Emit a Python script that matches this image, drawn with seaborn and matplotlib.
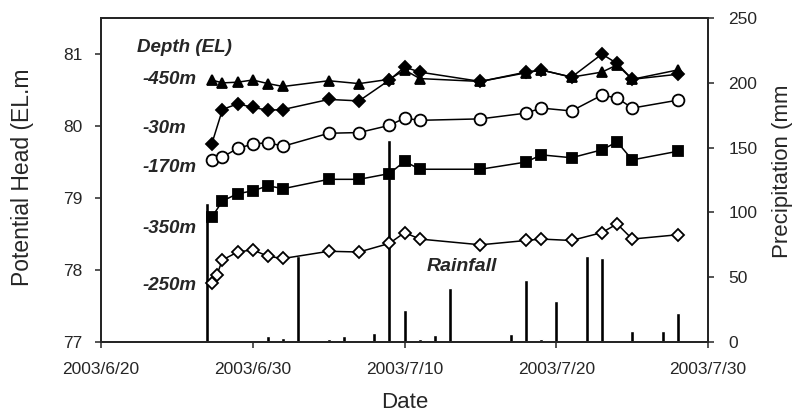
import pandas as pd
import numpy as np
import matplotlib
matplotlib.use("Agg")
import matplotlib.pyplot as plt
import matplotlib.dates as mdates
import seaborn as sns

# measurement dates (potential head)
head_dates = ["2003-06-27 07:00", "2003-06-28 00:00", "2003-06-29 00:00", "2003-06-30 00:00",
              "2003-07-01 00:00", "2003-07-02 00:00", "2003-07-05 00:00", "2003-07-07 00:00",
              "2003-07-09 00:00", "2003-07-10 00:00", "2003-07-11 00:00", "2003-07-15 00:00",
              "2003-07-18 00:00", "2003-07-19 00:00", "2003-07-21 00:00", "2003-07-23 00:00",
              "2003-07-24 00:00", "2003-07-25 00:00", "2003-07-28 00:00"]
# the -250m well has one extra reading on the first day
head_dates_250 = ["2003-06-27 07:00", "2003-06-27 15:00"] + head_dates[1:]

head_450 = [80.64, 80.60, 80.61, 80.64, 80.59, 80.55, 80.63, 80.59, 80.65, 80.78,
            80.66, 80.62, 80.74, 80.78, 80.68, 80.75, 80.85, 80.65, 80.78]
head_30 = [79.75, 80.23, 80.31, 80.26, 80.22, 80.23, 80.37, 80.35, 80.64, 80.82,
           80.75, 80.62, 80.75, 80.78, 80.68, 81.00, 80.87, 80.65, 80.72]
head_170 = [79.53, 79.57, 79.69, 79.75, 79.77, 79.72, 79.90, 79.91, 80.01, 80.11,
            80.08, 80.10, 80.18, 80.25, 80.21, 80.43, 80.39, 80.25, 80.36]
head_350 = [78.73, 78.96, 79.06, 79.10, 79.17, 79.13, 79.26, 79.26, 79.34, 79.51,
            79.40, 79.40, 79.50, 79.60, 79.56, 79.67, 79.78, 79.53, 79.65]
head_250 = [77.82, 77.93, 78.14, 78.25, 78.28, 78.19, 78.16, 78.26, 78.25, 78.37,
            78.52, 78.43, 78.35, 78.41, 78.43, 78.41, 78.52, 78.64, 78.43, 78.49]

# daily rainfall
rain_dates = ["2003-06-27", "2003-06-28", "2003-07-01", "2003-07-02", "2003-07-03",
              "2003-07-04", "2003-07-05", "2003-07-06", "2003-07-08", "2003-07-09",
              "2003-07-10", "2003-07-11", "2003-07-12", "2003-07-13", "2003-07-17",
              "2003-07-18", "2003-07-19", "2003-07-20", "2003-07-22", "2003-07-23",
              "2003-07-24", "2003-07-25", "2003-07-27", "2003-07-28"]
rain_mm = [107, 1.5, 4.6, 2.8, 66, 1.5, 2.5, 4.6, 6.7, 156,
           25, 2.5, 5.5, 42, 5.9, 48, 2, 32, 66, 65,
           0.5, 8.5, 8.5, 22]

depth_labels = ["-450m", "-30m", "-170m", "-350m", "-250m"]
x_ticks = ["2003-06-20", "2003-06-30", "2003-07-10", "2003-07-20", "2003-07-30"]

sns.set_style("ticks")
plt.rcParams['font.family'] = ['Liberation Sans', 'DejaVu Sans']
plt.rcParams['axes.linewidth'] = 1.4

fig = plt.figure(figsize=(8.02, 4.12), dpi=100)
ax = fig.add_axes([0.126, 0.170, 0.757, 0.786])
ax2 = ax.twinx()
ax.set_zorder(ax2.get_zorder() + 1)
ax.patch.set_visible(False)

# rainfall bars on the right axis
rain = pd.DataFrame({"date": pd.to_datetime(rain_dates, format="ISO8601"), "mm": rain_mm})
ax2.bar(rain["date"], rain["mm"], width=0.26, color="black")
ax2.set_ylim(0, 250)
ax2.set_yticks(range(0, 251, 50))
ax2.set_ylabel("Precipitation (mm", fontsize=16)
ax2.yaxis.set_label_coords(1.105, 0.528)

heads = pd.DataFrame({"date": pd.to_datetime(head_dates, format="ISO8601"),
                      "-450m": head_450, "-30m": head_30,
                      "-170m": head_170, "-350m": head_350})
h250 = pd.DataFrame({"date": pd.to_datetime(head_dates_250, format="ISO8601"), "head": head_250})

styles = {
    "-450m": dict(marker="^", markersize=7, markerfacecolor="black"),
    "-30m": dict(marker="D", markersize=6.5, markerfacecolor="black"),
    "-170m": dict(marker="o", markersize=8.5, markerfacecolor="white"),
    "-350m": dict(marker="s", markersize=7.5, markerfacecolor="black"),
}
for col, st in styles.items():
    sns.lineplot(data=heads, x="date", y=col, ax=ax, color="black", linewidth=1.1,
                 markeredgecolor="black", markeredgewidth=1.3, **st)
sns.lineplot(data=h250, x="date", y="head", ax=ax, color="black", linewidth=1.1,
             marker="D", markersize=6.5, markerfacecolor="white",
             markeredgecolor="black", markeredgewidth=1.3)

ax.set_xlim(pd.Timestamp("2003-06-20"), pd.Timestamp("2003-07-30"))
ax.set_ylim(77, 81.5)
ax.set_yticks([77, 78, 79, 80, 81])
ax.set_xticks(pd.to_datetime(x_ticks))
ax.xaxis.set_major_formatter(mdates.DateFormatter("%Y/%-m/%-d"))
ax.set_xlabel("Date", fontsize=16, labelpad=11)
ax.set_ylabel("Potential Head (EL.m", fontsize=16.5)
ax.yaxis.set_label_coords(-0.111, 0.509)

for a in (ax, ax2):
    a.tick_params(labelsize=12.5, length=4.5, width=1.1, direction="out")
    for s in a.spines.values():
        s.set_visible(True)
        s.set_linewidth(1.4)
ax.tick_params(axis="y", pad=9)
ax.tick_params(axis="x", pad=10)
ax2.tick_params(axis="y", pad=10)

# depth annotations
txt = dict(fontsize=13.5, fontweight="bold", fontstyle="italic", transform=ax.transData)
ax.text(mdates.date2num(pd.Timestamp("2003-06-22 09:00")), 81.09, "Depth (EL)", va="center", **txt)
label_y = [80.65, 79.97, 79.42, 78.57, 77.78]
for lab, yv in zip(depth_labels, label_y):
    ax.text(mdates.date2num(pd.Timestamp("2003-06-22 18:00")), yv, lab, va="center", **txt)
ax2.text(mdates.date2num(pd.Timestamp("2003-07-13 19:00")), 58, "Rainfall", ha="center",
         va="center", fontsize=14, fontweight="bold", fontstyle="italic")

fig.savefig("out.png", dpi=100)
